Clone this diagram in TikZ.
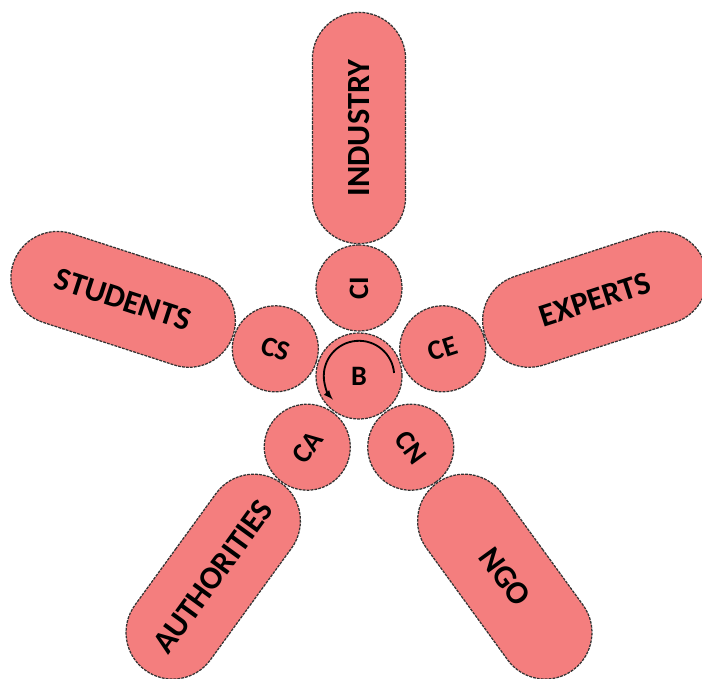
\documentclass[tikz,border=0pt]{standalone}
\usepackage{fontspec}
\setmainfont{Carlito}
\usetikzlibrary{shapes.misc}
\definecolor{petal}{RGB}{244,126,126}
\tikzset{
  petalbox/.style={rounded rectangle, draw=black!80, dash pattern=on 2pt off 0.8pt, line width=0.9pt,
    fill=petal, minimum width=5.78cm, minimum height=2.33cm, inner sep=0pt,
    font=\fontsize{23}{27}\selectfont\bfseries},
  hubdisc/.style={circle, draw=black!80, dash pattern=on 2pt off 0.8pt, line width=0.9pt,
    fill=petal, minimum size=2.15cm, inner sep=0pt,
    font=\fontsize{20}{24}\selectfont\bfseries}
}
\begin{document}
\begin{tikzpicture}[x=0.025cm, y=0.025cm]
	    \tikzset{>=latex}
	    \useasboundingbox (-359,-302) rectangle (343,376);
	    % outer petals
	    \node[petalbox, rotate=90] (industry) at (90:248) {INDUSTRY};
	    \node[petalbox, rotate=-18] (students) at (162:248) {STUDENTS};
	    \node[petalbox, rotate=18] (experts) at (18:248) {EXPERTS};
	    \node[petalbox, rotate=54] (authorities) at (234:248) {AUTHORITIES};
	    \node[petalbox, rotate=-54] (ngo) at (306:248) {NGO};
	    % inner ring
	    \node[hubdisc, rotate=90] (ci) at (90:88) {CI};
	    \node[hubdisc, rotate=-18] (cs) at (162:88) {CS};
	    \node[hubdisc, rotate=18] (ce) at (18:88) {CE};
	    \node[hubdisc, rotate=54] (ca) at (234:88) {CA};
	    \node[hubdisc, rotate=-54] (cn) at (306:88) {CN};
	    \node[hubdisc] (b) at (0,0) {B};
	    \draw [->, line width=1.3pt, solid] ([shift={(5:0.88cm)}]b.center) arc (5:222:0.88cm);
	\end{tikzpicture}
\end{document}
